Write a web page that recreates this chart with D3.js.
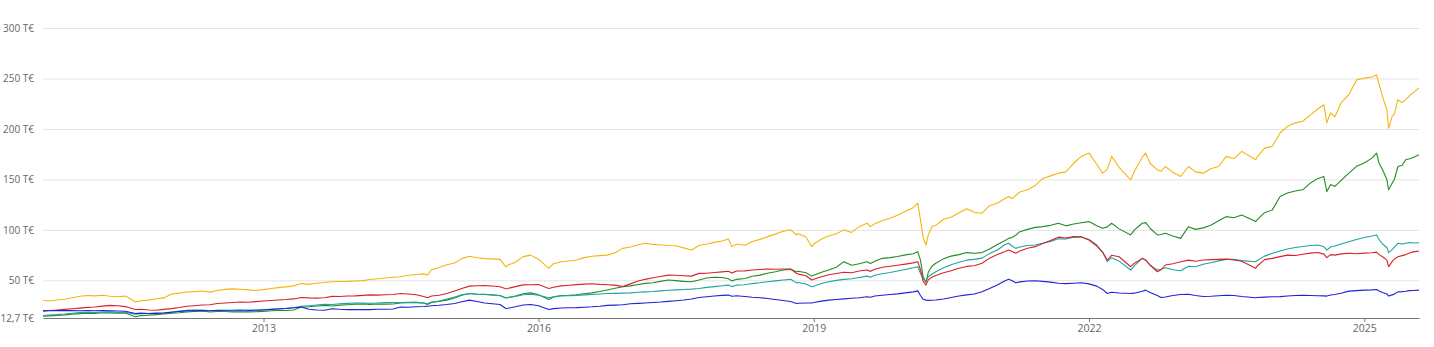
<!DOCTYPE html>
<html>
<head>
<meta charset="utf-8">
<script src="https://cdn.jsdelivr.net/npm/d3@7"></script>
<style>
  body { margin: 0; background: #fff; }
  #chart { width: 1434px; height: 347px; }
  .axis text { font-family: "Open Sans", "DejaVu Sans", sans-serif; font-size: 10px; fill: #666; }
  .axis--x text { font-size: 10.5px; }
  .axis--y .tick line { stroke: #e3e3e6; }
  .axis--y .domain { display: none; }
  .axis--x .domain { stroke: #777; }
  .axis--x .tick line { stroke: #777; }
  .line { fill: none; stroke-width: 1.1; stroke-linejoin: round; }
</style>
</head>
<body>
<div id="chart"></div>
<script>
// dates of the sampled points (roughly monthly, plus the sharp drops)
const dates = [
  '2010-08-07','2010-09-01','2010-10-01','2010-11-01','2010-12-01',
  '2011-01-01','2011-02-01','2011-03-01','2011-04-01','2011-05-01','2011-06-01','2011-07-01','2011-08-10','2011-09-01','2011-10-01','2011-11-01','2011-12-01',
  '2012-01-01','2012-02-01','2012-03-01','2012-04-01','2012-05-01','2012-06-01','2012-07-01','2012-08-01','2012-09-01','2012-10-01','2012-11-01','2012-12-01',
  '2013-01-01','2013-02-01','2013-03-01','2013-04-01','2013-05-01','2013-06-01','2013-07-01','2013-08-01','2013-09-01','2013-10-01','2013-11-01','2013-12-01',
  '2014-01-01','2014-02-01','2014-03-01','2014-04-01','2014-05-01','2014-06-01','2014-07-01','2014-08-01','2014-09-01','2014-10-01','2014-10-16','2014-11-01','2014-12-01',
  '2015-01-01','2015-02-01','2015-03-01','2015-04-01','2015-05-01','2015-06-01','2015-07-01','2015-08-01','2015-08-24','2015-09-01','2015-10-01','2015-11-01','2015-12-01',
  '2016-01-01','2016-02-11','2016-03-01','2016-04-01','2016-05-01','2016-06-01','2016-07-01','2016-08-01','2016-09-01','2016-10-01','2016-11-01','2016-12-01',
  '2017-01-01','2017-02-01','2017-03-01','2017-04-01','2017-05-01','2017-06-01','2017-07-01','2017-08-01','2017-09-01','2017-10-01','2017-11-01','2017-12-01',
  '2018-01-01','2018-01-26','2018-02-09','2018-03-01','2018-04-01','2018-05-01','2018-06-01','2018-07-01','2018-08-01','2018-09-01','2018-10-01','2018-10-24','2018-11-01','2018-12-01','2018-12-24',
  '2019-01-01','2019-02-01','2019-03-01','2019-04-01','2019-05-01','2019-06-01','2019-07-01','2019-08-01','2019-08-15','2019-09-01','2019-10-01','2019-11-01','2019-12-01',
  '2020-01-01','2020-02-01','2020-02-19','2020-03-01','2020-03-12','2020-03-23','2020-04-01','2020-04-15','2020-05-01','2020-06-01','2020-07-01','2020-08-01','2020-09-01','2020-10-01','2020-11-01','2020-12-01',
  '2021-01-01','2021-02-01','2021-02-15','2021-03-01','2021-03-15','2021-04-01','2021-05-01','2021-06-01','2021-07-01','2021-08-01','2021-09-01','2021-10-01','2021-11-01','2021-12-01',
  '2022-01-01','2022-02-01','2022-02-24','2022-03-15','2022-04-01','2022-05-01','2022-06-16','2022-07-01','2022-08-01','2022-08-15','2022-09-01','2022-09-30','2022-10-15','2022-11-01','2022-12-01',
  '2023-01-01','2023-02-01','2023-03-01','2023-04-01','2023-05-01','2023-06-01','2023-07-01','2023-08-01','2023-09-01','2023-10-27','2023-11-01','2023-12-01',
  '2024-01-01','2024-02-01','2024-03-01','2024-04-01','2024-05-01','2024-06-01','2024-07-01','2024-07-24','2024-08-05','2024-08-20','2024-09-06','2024-10-01','2024-11-01','2024-12-01',
  '2025-01-01','2025-02-01','2025-02-19','2025-03-01','2025-03-15','2025-04-01','2025-04-08','2025-04-22','2025-05-01','2025-05-15','2025-06-01','2025-06-15','2025-07-01','2025-07-15','2025-08-07'
];

// values in thousand euro
const yellowValues = [
  30, 29.5, 30.5, 31.2, 32.8,
  34.2, 35.0, 34.6, 35.2, 34.2, 33.8, 34.4, 28.7, 29.8, 30.4, 31.8, 32.6,
  36.5, 37.3, 38.4, 38.8, 39.5, 38.3, 40.0, 41.1, 41.6, 41.2, 40.6, 40.0,
  40.8, 42.0, 42.8, 43.5, 44.5, 46.8, 46.0, 47.2, 47.8, 48.6, 48.9, 49.0,
  49.4, 49.7, 50.8, 51.6, 52.4, 53.0, 53.6, 55.0, 55.8, 56.4, 55.0, 60.5, 62.8,
  65.5, 67.2, 71.5, 73.8, 72.4, 71.5, 71.3, 70.8, 63.4, 65.0, 68.0, 73.5, 75.0,
  71.0, 61.9, 66.5, 68.4, 69.2, 70.1, 72.5, 73.8, 74.5, 75.0, 77.3, 81.7,
  83.0, 85.2, 86.7, 85.6, 85.0, 84.5, 84.3, 82.2, 80.0, 84.6, 86.0, 87.6,
  89.0, 91.0, 83.4, 86.0, 84.8, 88.4, 90.6, 93.3, 95.8, 98.6, 100.0, 95.0, 96.2, 93.0, 83.4,
  86.0, 91.0, 94.0, 96.2, 100.0, 97.5, 103.2, 106.6, 103.2, 106.0, 109.0, 111.5, 114.5,
  118.5, 122.0, 126.4, 110.0, 92.0, 85.0, 95.0, 103.0, 104.5, 110.5, 112.5, 117.0, 121.0, 117.5, 116.5, 124.0,
  126.4, 131.0, 133.0, 131.0, 134.0, 137.5, 139.7, 144.0, 151.0, 153.5, 156.2, 157.5, 166.0, 172.8,
  176.1, 165.0, 156.2, 160.0, 172.8, 162.0, 149.6, 158.0, 172.0, 176.0, 166.0, 159.5, 158.0, 162.8, 157.0,
  152.9, 162.8, 157.5, 156.2, 160.5, 162.8, 172.8, 170.5, 177.8, 169.5, 172.0, 181.0,
  182.8, 196.0, 202.6, 206.0, 207.6, 214.0, 220.0, 224.0, 206.0, 216.0, 212.0, 226.0, 234.0, 248.6,
  250.3, 251.5, 253.6, 244.0, 232.0, 219.0, 200.8, 212.4, 215.0, 229.0, 226.0, 229.0, 233.0, 236.0, 240.7
];

const greenValues = [
  14.5, 14.8, 15.3, 15.8, 16.5,
  17.0, 17.4, 17.3, 17.9, 17.8, 17.4, 17.6, 14.0, 15.1, 15.4, 16.0, 16.6,
  17.5, 17.9, 18.6, 19.1, 19.6, 18.7, 19.2, 19.1, 18.8, 18.9, 18.6, 18.9,
  19.3, 19.9, 20.1, 20.2, 20.6, 23.5, 23.9, 24.6, 25.2, 24.6, 25.5, 25.9,
  26.3, 26.5, 26.2, 26.6, 26.4, 26.5, 27.6, 27.9, 28.2, 27.5, 26.0, 28.0, 29.0,
  30.4, 32.5, 35.2, 37.0, 36.3, 36.2, 35.8, 35.0, 32.5, 32.9, 34.5, 36.8, 37.6,
  35.8, 31.1, 33.6, 35.0, 35.3, 35.8, 36.8, 37.6, 38.9, 40.5, 42.2, 43.6,
  44.5, 45.9, 47.0, 47.6, 49.0, 50.3, 49.7, 49.0, 48.6, 50.3, 52.3, 53.0,
  52.8, 51.5, 49.5, 51.0, 51.8, 54.0, 55.2, 57.0, 58.5, 60.2, 60.9, 58.5, 59.0, 57.6, 54.2,
  55.0, 58.0, 60.2, 63.0, 68.5, 65.0, 66.5, 68.5, 66.8, 69.0, 71.8, 72.5, 73.6,
  75.2, 76.4, 78.4, 70.1, 53.0, 48.0, 58.0, 64.0, 67.0, 71.5, 74.0, 75.5, 77.5, 76.8, 77.5, 81.0,
  85.5, 89.5, 91.6, 92.5, 94.6, 98.2, 100.5, 102.5, 103.2, 104.5, 106.6, 104.0, 105.8, 107.0,
  108.2, 104.0, 101.6, 103.0, 106.6, 101.0, 95.0, 100.0, 106.6, 107.2, 101.6, 95.0, 95.5, 96.6, 94.0,
  91.6, 103.2, 100.5, 102.0, 104.5, 109.0, 113.1, 112.0, 114.8, 108.2, 110.0, 117.0,
  119.8, 133.0, 136.5, 138.5, 139.7, 146.5, 151.0, 152.9, 138.0, 145.0, 143.0, 149.0, 156.2, 163.0,
  166.2, 171.1, 176.1, 166.0, 159.5, 150.0, 139.7, 146.3, 150.0, 162.8, 164.0, 169.4, 170.5, 171.8, 174.4
];

const redValues = [
  19.8, 20.2, 20.6, 21.2, 21.9,
  22.5, 23.2, 23.6, 24.5, 25.2, 24.9, 24.0, 21.1, 21.4, 20.6, 20.4, 21.2,
  22.0, 23.1, 24.3, 24.9, 25.6, 25.9, 27.1, 27.6, 28.1, 28.5, 28.3, 28.9,
  29.5, 30.0, 30.6, 31.0, 31.6, 33.0, 32.6, 32.4, 32.8, 34.1, 34.0, 34.5,
  34.6, 35.1, 35.6, 35.4, 35.8, 36.0, 37.0, 36.5, 35.8, 34.0, 32.7, 34.5, 35.3,
  37.0, 39.5, 42.0, 44.3, 44.6, 44.8, 44.4, 43.6, 41.6, 42.0, 43.8, 45.5, 45.6,
  45.9, 42.0, 43.2, 44.5, 45.2, 45.8, 46.3, 46.6, 46.0, 45.6, 45.3, 43.8,
  46.5, 49.3, 51.0, 52.6, 53.8, 55.2, 55.0, 54.6, 54.2, 56.9, 57.0, 57.8,
  58.4, 59.0, 57.4, 59.2, 59.4, 60.3, 60.8, 61.2, 61.0, 61.3, 61.2, 57.0, 56.2, 54.5, 50.3,
  51.0, 53.6, 55.5, 56.8, 58.0, 57.6, 59.3, 60.2, 58.9, 61.0, 63.0, 64.0, 65.0,
  66.1, 67.3, 68.5, 60.5, 49.0, 45.3, 50.5, 53.0, 54.8, 57.5, 59.5, 62.0, 63.8, 64.5, 67.0, 72.0,
  75.5, 78.5, 80.0, 78.6, 76.8, 79.0, 81.8, 83.4, 86.5, 89.5, 92.8, 92.0, 93.3, 93.0,
  90.0, 84.0, 78.0, 70.1, 74.8, 73.4, 63.5, 67.0, 71.8, 70.0, 65.2, 58.5, 60.5, 65.2, 66.5,
  68.5, 70.0, 69.0, 70.1, 70.5, 70.8, 71.0, 70.2, 69.0, 61.9, 64.0, 70.5,
  71.8, 73.5, 75.0, 74.6, 75.8, 77.0, 77.6, 76.0, 72.5, 75.5, 75.0, 76.2, 76.8, 76.4,
  77.0, 77.4, 78.0, 75.5, 73.4, 70.0, 63.5, 68.5, 71.0, 73.4, 74.5, 75.5, 77.0, 78.2, 79.0
];

const tealValues = [
  15.2, 15.6, 16.0, 16.6, 17.4,
  18.0, 18.3, 18.2, 18.6, 18.6, 18.2, 18.4, 16.5, 16.9, 17.1, 17.5, 17.8,
  18.7, 19.5, 20.3, 20.5, 20.6, 19.9, 20.0, 19.9, 19.4, 19.6, 19.2, 19.6,
  20.6, 21.3, 21.8, 22.2, 22.8, 24.3, 24.9, 25.6, 26.2, 26.1, 26.8, 27.2,
  27.6, 27.4, 27.3, 27.6, 27.9, 28.0, 28.1, 28.3, 28.2, 27.4, 26.7, 28.5, 29.6,
  31.4, 33.5, 35.6, 37.0, 36.3, 36.0, 35.4, 34.8, 32.8, 33.0, 34.0, 35.8, 36.2,
  35.2, 32.8, 33.6, 34.5, 34.8, 35.1, 35.6, 36.0, 36.5, 37.0, 37.1, 37.3,
  37.6, 38.2, 38.6, 39.0, 39.6, 40.2, 40.6, 41.0, 41.3, 42.0, 43.0, 43.8,
  44.6, 45.3, 43.8, 45.3, 45.6, 46.8, 47.6, 48.6, 49.5, 50.4, 51.0, 47.5, 47.8, 46.4, 43.6,
  44.2, 46.8, 48.6, 50.0, 51.0, 51.6, 52.8, 54.2, 53.0, 55.0, 56.6, 57.8, 59.2,
  60.8, 62.4, 63.5, 57.0, 51.0, 49.5, 53.5, 56.0, 58.5, 62.5, 65.5, 68.0, 70.0, 70.8, 72.0, 76.5,
  80.0, 85.5, 86.7, 84.0, 81.7, 83.0, 84.5, 85.0, 86.8, 88.6, 91.2, 91.0, 92.8, 93.3,
  90.5, 85.0, 78.0, 68.5, 72.5, 69.0, 60.2, 64.5, 71.8, 70.0, 65.0, 60.2, 61.0, 62.5, 60.5,
  59.5, 64.0, 63.5, 66.0, 67.5, 69.3, 70.8, 70.8, 69.5, 68.5, 69.5, 74.0,
  76.8, 79.0, 81.0, 82.5, 83.5, 84.5, 85.0, 83.5, 80.0, 83.0, 84.0, 86.0, 88.3, 90.5,
  92.5, 94.0, 95.0, 90.5, 86.0, 82.5, 77.4, 80.5, 83.0, 86.7, 86.0, 86.8, 87.5, 87.0, 87.3
];

const blueValues = [
  19.8, 19.9, 20.0, 20.1, 20.0,
  19.9, 20.1, 19.9, 20.0, 19.8, 19.6, 19.4, 17.2, 17.5, 17.0, 17.3, 17.6,
  18.4, 19.1, 19.8, 20.0, 20.2, 19.9, 20.3, 20.4, 20.4, 20.6, 20.3, 20.5,
  20.8, 21.2, 21.6, 22.1, 22.8, 23.6, 21.3, 20.6, 20.4, 21.8, 21.3, 21.0,
  21.0, 21.1, 21.0, 21.3, 21.4, 21.6, 23.6, 23.4, 23.9, 24.1, 24.4, 24.8, 25.3,
  26.0, 27.0, 28.8, 30.4, 29.0, 27.6, 26.8, 26.0, 22.1, 22.3, 23.8, 25.6, 26.1,
  24.8, 21.1, 22.0, 22.6, 22.8, 23.0, 23.4, 23.8, 24.4, 25.2, 25.5, 25.8,
  26.8, 27.2, 27.6, 28.0, 28.5, 29.2, 29.8, 30.5, 31.5, 33.0, 33.8, 34.5,
  35.1, 35.4, 34.2, 34.8, 34.0, 33.3, 32.8, 32.0, 31.0, 30.0, 29.0, 27.1, 27.3, 27.5, 27.7,
  28.0, 29.4, 30.4, 31.0, 31.6, 32.2, 32.8, 33.7, 33.2, 34.5, 35.3, 36.0, 36.6,
  37.6, 38.6, 39.6, 35.0, 31.2, 30.4, 30.2, 30.3, 30.6, 31.6, 33.0, 34.5, 35.6, 36.5, 38.8, 42.0,
  45.3, 49.5, 51.0, 49.5, 47.6, 48.5, 49.3, 49.6, 49.0, 48.2, 47.2, 46.8, 47.2, 47.6,
  46.5, 44.3, 41.0, 37.0, 38.2, 37.5, 37.0, 37.3, 39.2, 40.3, 38.0, 35.0, 33.0, 33.5, 35.0,
  36.0, 36.3, 35.0, 34.0, 34.2, 34.8, 35.3, 35.0, 34.0, 32.7, 33.0, 33.4,
  33.7, 33.9, 34.5, 35.0, 35.3, 35.0, 34.8, 34.6, 34.4, 35.5, 36.0, 37.2, 39.3, 39.8,
  40.3, 40.6, 41.0, 39.5, 38.0, 36.5, 34.4, 35.6, 36.5, 38.6, 38.8, 39.2, 39.8, 40.0, 40.3
];

const yTicks = [300, 250, 200, 150, 100, 50, 12.7];
const xTickYears = [2013, 2016, 2019, 2022, 2025];

const series = [
  {name: 'gelb', values: yellowValues, color: '#f5b50f'},
  {name: 'grün', values: greenValues, color: '#248c24'},
  {name: 'türkis', values: tealValues, color: '#20a39c'},
  {name: 'rot', values: redValues, color: '#d9212a'},
  {name: 'blau', values: blueValues, color: '#2121d6'}
];

let svg = d3.select('#chart')
  .append('svg')
  .attr('width', 1434)
  .attr('height', 347);

let margin = {top: 28, right: 15, bottom: 29, left: 43},
    width = +svg.attr('width') - margin.left - margin.right,
    height = +svg.attr('height') - margin.top - margin.bottom;

let parse = d3.timeParse('%Y-%m-%d');
let times = dates.map(parse);

let x = d3.scaleTime()
  .domain(d3.extent(times))
  .range([0, width]);
let y = d3.scaleLinear()
  .domain([12.7, 300])
  .range([height, 0]);

let de = d3.formatLocale({decimal: ',', thousands: '.', grouping: [3], currency: ['', ' €']});
let fmt = de.format('.1~f');

let g = svg.append('g')
  .attr('transform', 'translate(' + margin.left + ',' + margin.top + ')');

g.append('g')
  .attr('class', 'axis axis--y')
  .call(d3.axisLeft(y)
    .tickValues(yTicks)
    .tickSize(-width)
    .tickPadding(9)
    .tickFormat(function(d) { return fmt(d) + ' T€'; }))
  .call(function(a) { a.selectAll('.tick').filter(function(d) { return d === 12.7; }).select('line').remove(); });

g.append('g')
  .attr('class', 'axis axis--x')
  .attr('transform', 'translate(0,' + height + ')')
  .call(d3.axisBottom(x)
    .tickValues(xTickYears.map(function(yr) { return new Date(yr, 0, 1); }))
    .tickFormat(d3.timeFormat('%Y'))
    .tickSize(4)
    .tickSizeOuter(0)
    .tickPadding(3));

let line = d3.line()
  .x(function(d, i) { return x(times[i]); })
  .y(function(d) { return y(d); });

g.selectAll('.line')
  .data(series)
  .enter().append('path')
  .attr('class', 'line')
  .attr('stroke', function(d) { return d.color; })
  .attr('d', function(d) { return line(d.values); });
</script>
</body>
</html>
